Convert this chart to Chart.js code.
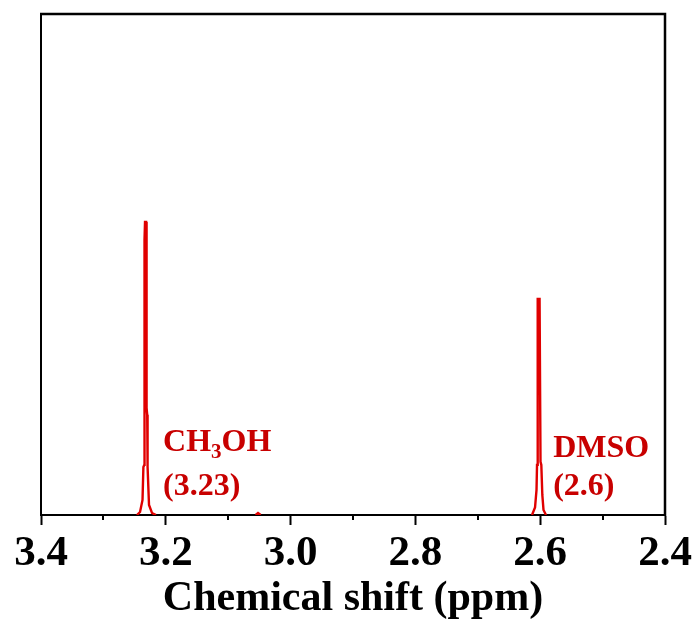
<!DOCTYPE html>
<html>
<head>
<meta charset="utf-8">
<script src="https://cdn.jsdelivr.net/npm/chart.js@4"></script>
<style>
  html, body { margin: 0; padding: 0; background: #fff; }
  #chart { display: block; }
</style>
</head>
<body>
<canvas id="chart" width="696" height="625"></canvas>
<script>
// 1H NMR spectrum (ppm vs relative intensity)
const ch3ohShift = [3.2462, 3.2413, 3.2373, 3.2359, 3.2345, 3.2341, 3.2333, 3.2315, 3.2308, 3.2298, 3.2292, 3.2269, 3.2221, 3.2157];
const ch3ohIntensity = [0, 0.006, 0.03, 0.096, 0.10, 0.55, 0.585, 0.585, 0.214, 0.20, 0.096, 0.02, 0.004, 0];

const dmsoShift = [2.6131, 2.6083, 2.6059, 2.6051, 2.6040, 2.6010, 2.5995, 2.5982, 2.5966, 2.5947, 2.5907];
const dmsoIntensity = [0, 0.015, 0.05, 0.10, 0.431, 0.431, 0.106, 0.10, 0.04, 0.01, 0];

const bumpShift = [3.0560, 3.0522, 3.0480];
const bumpIntensity = [0, 0.004, 0];

const majorTicks = [3.4, 3.2, 3.0, 2.8, 2.6, 2.4];
const minorTicks = [3.3, 3.1, 2.9, 2.7, 2.5];

const peakLabels = [
    { shift: 3.23, name: ['CH', '3', 'OH'], value: '(3.23)' },
    { shift: 2.6, name: ['DMSO', '', ''], value: '(2.6)' }
];

const serif = '"Liberation Serif", "Times New Roman", serif';
const red = '#e00000';

const toPoints = (xs, ys) => xs.map((x, i) => ({ x: x, y: ys[i] }));

const lineStyle = {
    borderColor: red,
    borderWidth: 2.4,
    pointRadius: 0,
    tension: 0,
    fill: false
};

// minor ticks, frame and peak labels
const extras = {
    id: 'extras',
    afterDatasetsDraw(chart) {
        const { ctx, chartArea } = chart;
        const xs = chart.scales.x;

        ctx.save();
        ctx.strokeStyle = '#000';
        ctx.lineWidth = 2.5;
        ctx.beginPath();
        ctx.moveTo(chartArea.left - 1, chartArea.top);
        ctx.lineTo(chartArea.right, chartArea.top);
        ctx.lineTo(chartArea.right, chartArea.bottom + 1);
        ctx.stroke();

        ctx.lineWidth = 2;
        minorTicks.forEach(v => {
            const px = Math.round(xs.getPixelForValue(v));
            ctx.beginPath();
            ctx.moveTo(px, chartArea.bottom);
            ctx.lineTo(px, chartArea.bottom + 5);
            ctx.stroke();
        });

        ctx.fillStyle = '#c80000';
        ctx.textBaseline = 'alphabetic';
        peakLabels.forEach((lbl, i) => {
            const px = xs.getPixelForValue(lbl.shift);
            const left = px + (i === 0 ? 16 : 13);
            const y1 = chartArea.bottom - (i === 0 ? 64 : 58);
            const y2 = chartArea.bottom - 20;
            ctx.font = 'bold 32px ' + serif;
            ctx.fillText(lbl.name[0], left, y1);
            let x = left + ctx.measureText(lbl.name[0]).width;
            if (lbl.name[1]) {
                ctx.font = 'bold 21px ' + serif;
                ctx.fillText(lbl.name[1], x, y1 + 7);
                x += ctx.measureText(lbl.name[1]).width;
                ctx.font = 'bold 32px ' + serif;
                ctx.fillText(lbl.name[2], x, y1);
            }
            ctx.font = 'bold 32px ' + serif;
            ctx.fillText(lbl.value, left, y2);
        });
        ctx.restore();
    }
};

new Chart(document.getElementById('chart'), {
    type: 'line',
    data: {
        datasets: [
            Object.assign({ data: toPoints(ch3ohShift, ch3ohIntensity) }, lineStyle),
            Object.assign({ data: toPoints(bumpShift, bumpIntensity) }, lineStyle),
            Object.assign({ data: toPoints(dmsoShift, dmsoIntensity) }, lineStyle)
        ]
    },
    options: {
        responsive: false,
        animation: false,
        layout: { padding: { left: 41, right: 31, top: 14, bottom: 0 } },
        plugins: {
            legend: { display: false },
            tooltip: { enabled: false }
        },
        scales: {
            x: {
                type: 'linear',
                reverse: true,
                min: 2.4,
                max: 3.4,
                afterBuildTicks: s => { s.ticks = majorTicks.map(v => ({ value: v })); },
                afterFit: s => { s.height = 110; },
                ticks: {
                    autoSkip: false,
                    maxRotation: 0,
                    padding: 3,
                    color: '#000',
                    font: { family: serif, size: 43, weight: 'bold' },
                    callback: v => v.toFixed(1)
                },
                grid: {
                    display: true,
                    drawOnChartArea: false,
                    drawTicks: true,
                    tickLength: 10,
                    tickWidth: 2,
                    tickColor: '#000'
                },
                border: { display: true, color: '#000', width: 2 },
                title: {
                    display: true,
                    text: 'Chemical shift (ppm)',
                    color: '#000',
                    font: { family: serif, size: 42, weight: 'bold' },
                    padding: { top: 0, bottom: 1 }
                }
            },
            y: {
                min: 0,
                max: 1,
                afterFit: s => { s.width = 0; },
                ticks: { display: false },
                grid: { display: false },
                border: { display: true, color: '#000', width: 2 }
            }
        }
    },
    plugins: [extras]
});
</script>
</body>
</html>
